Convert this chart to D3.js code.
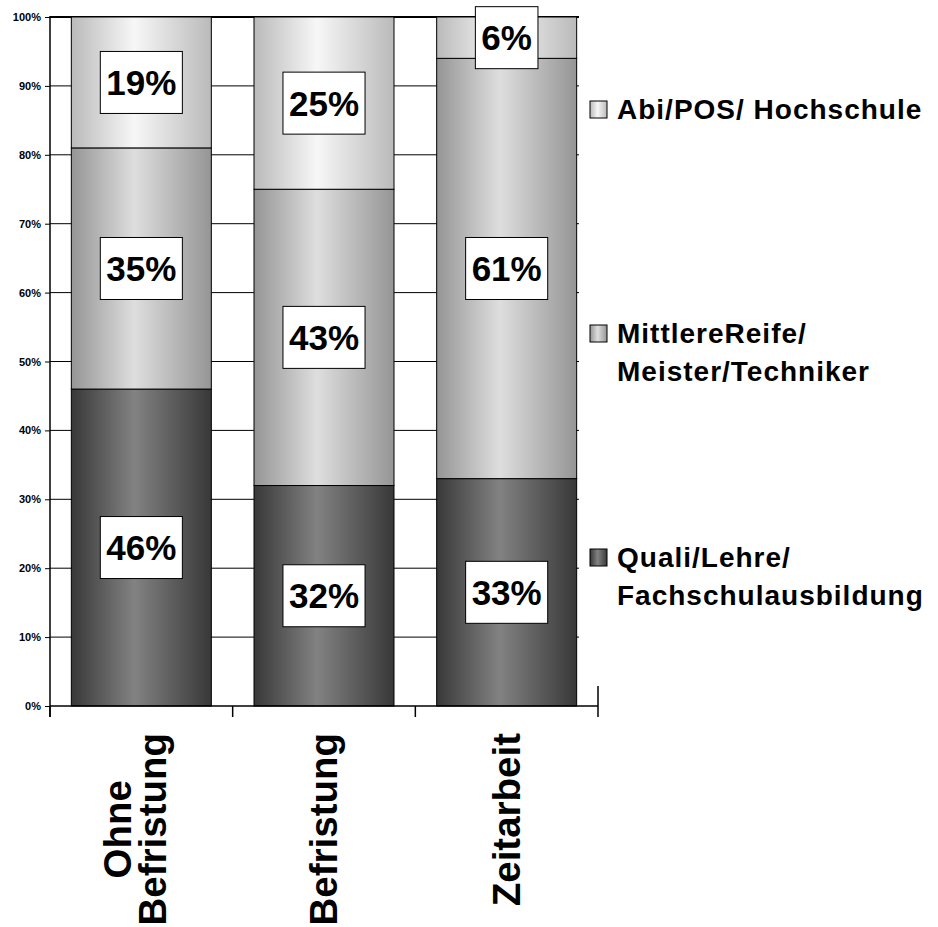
<!DOCTYPE html>
<html>
<head>
<meta charset="utf-8">
<script src="https://cdn.jsdelivr.net/npm/d3@7"></script>
<style>
  body { margin: 0; background: #fff; }
  text { font-family: "Liberation Sans", Arial, sans-serif; font-weight: bold; }
</style>
</head>
<body>
<div id="canvas"></div>
<script>
var categories = ["Ohne Befristung", "Befristung", "Zeitarbeit"];
var seriesKeys = ["quali", "mittlere", "abi"];
var seriesLabels = {
  quali: ["Quali/Lehre/", "Fachschulausbildung"],
  mittlere: ["MittlereReife/", "Meister/Techniker"],
  abi: ["Abi/POS/ Hochschule"]
};
var quali = [46, 32, 33];
var mittlere = [35, 43, 61];
var abi = [19, 25, 6];
var yTicks = [0, 10, 20, 30, 40, 50, 60, 70, 80, 90, 100];

var width = 938, height = 927;

var rows = categories.map(function(c, i) {
  return { cat: c, quali: quali[i], mittlere: mittlere[i], abi: abi[i] };
});

var svg = d3.select("div#canvas").append("svg")
  .attr("width", width)
  .attr("height", height);

// gradients, lightest a bit left of centre
var grads = {
  quali: ["#383838", "#828282", "#383838"],
  mittlere: ["#959595", "#dedede", "#959595"],
  abi: ["#bababa", "#f7f7f7", "#bababa"]
};
var defs = svg.append("defs");
seriesKeys.forEach(function(k) {
  var g = defs.append("linearGradient").attr("id", "g_" + k)
    .attr("x1", "0%").attr("x2", "100%").attr("y1", "0%").attr("y2", "0%");
  g.append("stop").attr("offset", "0%").attr("stop-color", grads[k][0]);
  g.append("stop").attr("offset", "45%").attr("stop-color", grads[k][1]);
  g.append("stop").attr("offset", "100%").attr("stop-color", grads[k][2]);
});

var x = d3.scaleBand().domain(categories).range([50, 598])
  .paddingInner(0.2336).paddingOuter(0.1168);
var y = d3.scaleLinear().domain([0, 100]).range([706, 17]);

// gridlines
svg.append("g").selectAll("line").data(yTicks.slice(1)).enter().append("line")
  .attr("x1", 50).attr("x2", 579)
  .attr("y1", function(d) { return y(d); }).attr("y2", function(d) { return y(d); })
  .attr("stroke", "#000")
  .attr("stroke-width", function(d) { return d == 100 ? 2 : 1; });

// y axis
var yAxis = svg.append("g").attr("transform", "translate(50,0)")
  .call(d3.axisLeft(y).tickValues(yTicks).tickSize(5).tickPadding(4)
    .tickFormat(function(d) { return d + "%"; }));
yAxis.select(".domain").remove();
yAxis.selectAll("line").attr("stroke", "#000");
yAxis.selectAll("text").attr("font-size", 11).attr("fill", "#000")
  .style("font-family", "'Liberation Sans', Arial, sans-serif").style("font-weight", "bold");
svg.append("line").attr("x1", 50).attr("x2", 50).attr("y1", 16).attr("y2", 717)
  .attr("stroke", "#000").attr("stroke-width", 1.5);

// stacked bars
var stack = d3.stack().keys(seriesKeys);
var layers = stack(rows);

var layer = svg.selectAll("g.layer").data(layers).enter().append("g")
  .attr("class", "layer")
  .attr("fill", function(d) { return "url(#g_" + d.key + ")"; });

layer.selectAll("rect").data(function(d) { return d; }).enter().append("rect")
  .attr("x", function(d) { return x(d.data.cat); })
  .attr("width", x.bandwidth())
  .attr("y", function(d) { return y(d[1]); })
  .attr("height", function(d) { return y(d[0]) - y(d[1]); })
  .attr("stroke", "#000").attr("stroke-width", 1);

// x axis
svg.append("line").attr("x1", 50).attr("x2", 598).attr("y1", 706).attr("y2", 706)
  .attr("stroke", "#000").attr("stroke-width", 1.5);
var bounds = categories.map(function(c) { return x(c) - x.step() * x.paddingOuter(); });
bounds.push(598);
svg.append("g").selectAll("line").data(bounds).enter().append("line")
  .attr("x1", function(d) { return d; }).attr("x2", function(d) { return d; })
  .attr("y1", 706).attr("y2", 717)
  .attr("stroke", "#000").attr("stroke-width", 1.5);
svg.append("line").attr("x1", 598).attr("x2", 598).attr("y1", 686).attr("y2", 706)
  .attr("stroke", "#000").attr("stroke-width", 1.5);

// value labels
var labels = svg.append("g");
layers.forEach(function(l) {
  l.forEach(function(d) {
    var cx = x(d.data.cat) + x.bandwidth() / 2;
    var cy = (y(d[0]) + y(d[1])) / 2;
    var g = labels.append("g");
    var t = g.append("text")
      .attr("x", cx).attr("y", cy + 12.5)
      .attr("text-anchor", "middle")
      .attr("font-size", 35)
      .text((d[1] - d[0]) + "%");
    var w = t.node().getComputedTextLength();
    g.insert("rect", "text")
      .attr("x", cx - w / 2 - 6).attr("y", cy - 31)
      .attr("width", w + 12).attr("height", 62)
      .attr("fill", "#fff").attr("stroke", "#000").attr("stroke-width", 1);
  });
});

// category labels, rotated
categories.forEach(function(c) {
  var lines = c.split(" ");
  var cx = x(c) + x.bandwidth() / 2;
  var g = svg.append("g");
  var texts = lines.map(function(s, i) {
    var off = (i - (lines.length - 1) / 2) * 35.5 - (lines.length > 1 ? 6 : 0);
    return g.append("text")
      .attr("text-anchor", "middle")
      .attr("font-size", 38.5)
      .attr("data-x", cx + off + 13)
      .text(s);
  });
  var maxLen = d3.max(texts, function(t) { return t.node().getComputedTextLength(); });
  texts.forEach(function(t) {
    var tx = +t.attr("data-x"), ty = 733 + maxLen / 2;
    t.attr("transform", "translate(" + tx + "," + ty + ") rotate(-90)");
  });
});

// legend
var legendTop = { abi: 101, mittlere: 325, quali: 549 };
seriesKeys.forEach(function(k) {
  var top = legendTop[k];
  svg.append("rect").attr("x", 590).attr("y", top)
    .attr("width", 17).attr("height", 17)
    .attr("fill", "url(#g_" + k + ")").attr("stroke", "#000").attr("stroke-width", 1);
  seriesLabels[k].forEach(function(s, i) {
    svg.append("text").attr("x", 617).attr("y", top + 18 + i * 38)
      .attr("font-size", 28)
      .style("letter-spacing", "1px")
      .text(s);
  });
});
</script>
</body>
</html>
